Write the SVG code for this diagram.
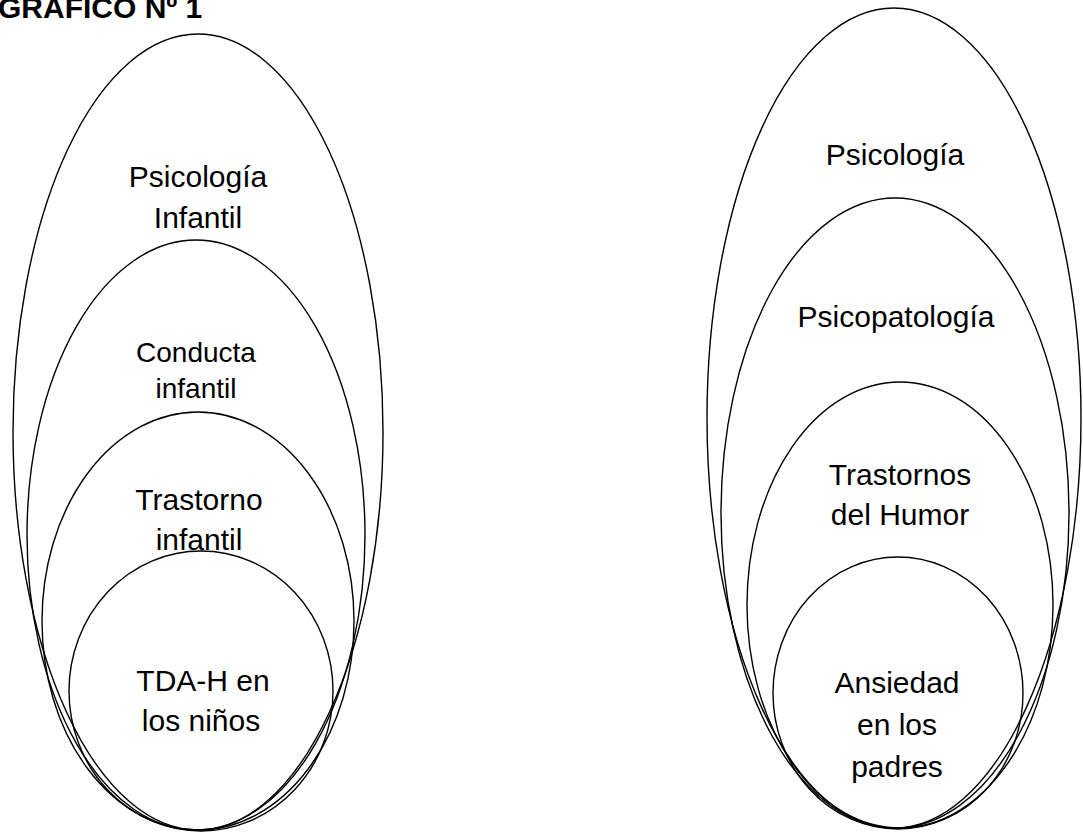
<svg xmlns="http://www.w3.org/2000/svg" width="1083" height="833" viewBox="0 0 1083 833">
<style>
.e{fill:none;stroke:#000;stroke-width:1.4}
.t{font-family:"Liberation Sans",Arial,sans-serif;font-size:30px;fill:#000;text-anchor:middle}
.s{font-size:28px}
.h{font-family:"Liberation Sans",Arial,sans-serif;font-size:30px;font-weight:bold;fill:#000}
</style>
<rect width="1083" height="833" fill="#fff"/>
<text id="title" class="h" x="-2" y="18">GRÁFICO Nº 1</text>
<g id="connectors"></g>
<g id="psicologia-infantil">
<ellipse class="e" cx="198" cy="432" rx="185" ry="398"/>
<text class="t" x="198" y="187">Psicología</text>
<text class="t" x="198" y="228">Infantil</text>
</g>
<g id="conducta-infantil">
<ellipse class="e" cx="196" cy="535" rx="169" ry="295"/>
<text class="t s" x="196" y="362">Conducta</text>
<text class="t s" x="196" y="398">infantil</text>
</g>
<g id="trastorno-infantil">
<text class="t" x="199" y="510">Trastorno</text>
<text class="t" x="199" y="550">infantil</text>
<ellipse class="e" cx="198" cy="621" rx="156" ry="209"/>
</g>
<g id="tdah-ninos">
<ellipse class="e" cx="201" cy="691" rx="132" ry="140"/>
<text class="t" x="203" y="691">TDA-H en</text>
<text class="t" x="201" y="731">los niños</text>
</g>
<g id="psicologia">
<ellipse class="e" cx="894" cy="418" rx="187" ry="410"/>
<text class="t" x="895" y="165">Psicología</text>
</g>
<g id="psicopatologia">
<ellipse class="e" cx="895" cy="513" rx="174" ry="315"/>
<text class="t" x="896" y="327">Psicopatología</text>
</g>
<g id="trastornos-humor">
<ellipse class="e" cx="900" cy="605" rx="153" ry="223"/>
<text class="t" x="900" y="485">Trastornos</text>
<text class="t" x="900" y="525">del Humor</text>
</g>
<g id="ansiedad-padres">
<ellipse class="e" cx="898" cy="693" rx="125" ry="136"/>
<text class="t" x="897" y="693">Ansiedad</text>
<text class="t" x="897" y="735">en los</text>
<text class="t" x="897" y="777">padres</text>
</g>
</svg>
